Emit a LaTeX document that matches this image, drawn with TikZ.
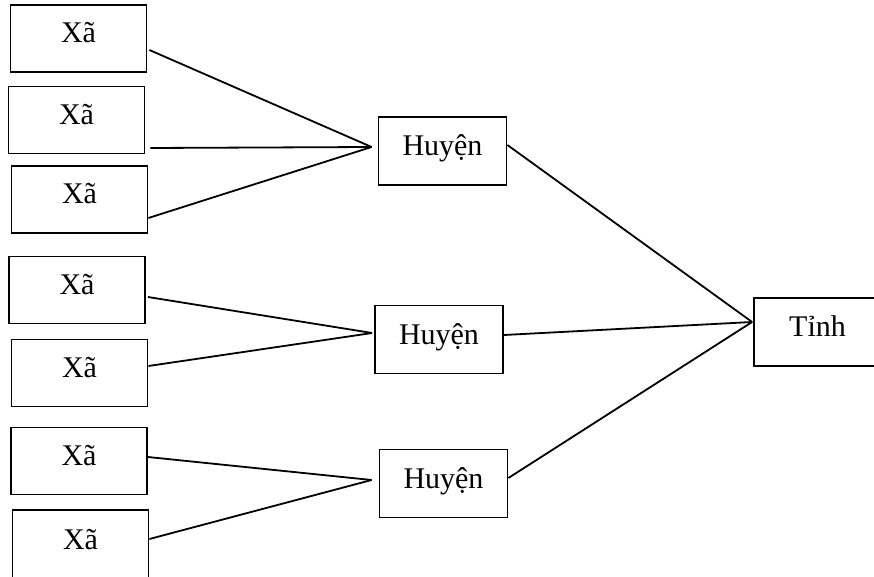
\documentclass[tikz,border=0pt]{standalone}
\usepackage{fontspec}
\setmainfont{Liberation Serif}
\begin{document}
\begin{tikzpicture}[x=1pt,y=-1pt,
  unit/.style={draw,line width=1.8pt,inner sep=0pt,
    font=\fontsize{30}{36}\selectfont,text height=20pt,text depth=11pt},
  commune/.style={unit,minimum width=136pt,minimum height=67pt},
  district/.style={unit,minimum width=128pt,minimum height=68pt,text depth=10pt},
  link/.style={line width=1.8pt}]
\useasboundingbox (0,0) rectangle (874,577);

% communes
\node[commune] (x1) at (78.5,38.5) {Xã};
\node[commune] (x2) at (76.5,120) {Xã};
\node[commune] (x3) at (79.5,199.5) {Xã};
\node[commune] (x4) at (77,290) {Xã};
\node[commune] (x5) at (79.5,373) {Xã};
\node[commune] (x6) at (79,461) {Xã};
\node[commune,minimum height=70pt] (x7) at (80.5,545) {Xã};

% districts
\node[district] (h1) at (442.5,151) {Huyện};
\node[district] (h2) at (439,339.5) {Huyện};
\node[district] (h3) at (443.5,483.5) {Huyện};

% province
\node[district,text depth=12pt,minimum width=127pt] (t) at (817.5,332) {Tỉnh};

% meeting points just left of each box
\coordinate (j1) at ([xshift=-6pt,yshift=4pt]h1.west);
\coordinate (j2) at ([xshift=-2pt,yshift=6.5pt]h2.west);
\coordinate (j3) at ([xshift=-7pt,yshift=3.5pt]h3.west);
\coordinate (jt) at ([xshift=-1pt,yshift=10pt]t.west);

% communes to districts
\draw[link] ([xshift=2pt,yshift=-11.5pt]x1.east) -- (j1);
\draw[link] ([xshift=5pt,yshift=-28pt]x2.east) -- (j1);
\draw[link] ([yshift=-18.5pt]x3.east) -- (j1);
\draw[link] ([xshift=2pt,yshift=-7pt]x4.east) -- (j2);
\draw[link] ([yshift=7pt]x5.east) -- (j2);
\draw[link] ([yshift=4pt]x6.east) -- (j3);
\draw[link] ([yshift=6pt]x7.east) -- (j3);

% districts to province
\draw[link] ([yshift=6pt]h1.east) -- (jt);
\draw[link] ([yshift=4.5pt]h2.east) -- (jt);
\draw[link] ([yshift=5.5pt]h3.east) -- (jt);
\end{tikzpicture}
\end{document}
